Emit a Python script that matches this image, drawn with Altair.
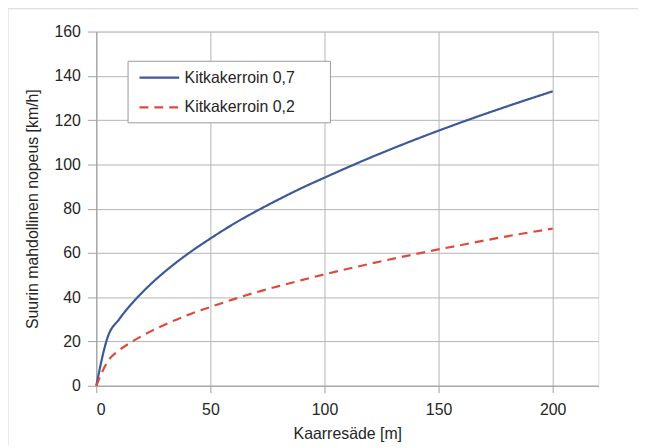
import altair as alt
import pandas as pd

radius = [0, 5, 10, 15, 20, 25, 30, 40, 50, 60, 70, 80, 90, 100, 120, 140, 160, 180, 200]
speed_07 = [0, 22, 30, 36.5, 42, 47, 51.5, 59.5, 66.5, 73, 78.8, 84.2, 89.3, 94, 103, 111.3, 119, 126.2, 133]
speed_02 = [0, 11, 16, 19.5, 22.5, 25.2, 27.6, 31.9, 35.6, 39, 42.2, 45, 47.7, 50.3, 55.1, 59.5, 63.6, 67.5, 71]
series = ["Kitkakerroin 0,7", "Kitkakerroin 0,2"]
x_ticks = [0, 50, 100, 150, 200]
y_ticks = [0, 20, 40, 60, 80, 100, 120, 140, 160]

rows = []
for name, vals in zip(series, [speed_07, speed_02]):
    for r, v in zip(radius, vals):
        rows.append({"r": r, "v": v, "s": name})
df = pd.DataFrame(rows)

FONT = "Liberation Sans"
TXT = "#262626"
GRID = "#b4b4b4"
W, H = 506, 357

axis_common = dict(
    grid=True, gridColor=GRID, gridWidth=1, domainColor="#a0a0a0", tickColor="#a0a0a0",
    labelFont=FONT, titleFont=FONT, labelFontSize=16, titleFontSize=16,
    labelColor=TXT, titleColor=TXT, titleFontWeight="normal",
)

legend_common = dict(
    title=None, orient="none", legendX=42, legendY=25,
    symbolType="stroke", symbolSize=1600, symbolStrokeWidth=2.2, rowPadding=-10,
    padding=0, labelFontSize=16,
    labelFont=FONT, labelColor=TXT, labelOffset=4, labelLimit=300,
)

lines = alt.Chart(df).mark_line(strokeWidth=2.2, interpolate="monotone").encode(
    x=alt.X("r:Q", scale=alt.Scale(domain=[0, 220], nice=False),
            axis=alt.Axis(values=x_ticks, title="Kaarresäde [m]",
                          tickSize=7, labelPadding=9, titlePadding=8, **axis_common)),
    y=alt.Y("v:Q", scale=alt.Scale(domain=[0, 160], nice=False),
            axis=alt.Axis(values=y_ticks, title="Suurin mahdollinen nopeus [km/h]",
                          tickSize=9, labelPadding=7, titlePadding=14, **axis_common)),
    color=alt.Color("s:N", scale=alt.Scale(domain=series, range=["#3d5a98", "#dc4b3c"]),
                    legend=alt.Legend(**legend_common)),
    strokeDash=alt.StrokeDash("s:N", scale=alt.Scale(domain=series, range=[[1, 0], [9, 6]]),
                              legend=alt.Legend(**legend_common)),
)

one = pd.DataFrame({"a": [0]})

frame = alt.Chart(one).mark_rect(
    fill=None, stroke="#d4d4d4", strokeWidth=1
).encode(
    x=alt.value(-89), x2=alt.value(W + 42), y=alt.value(-23), y2=alt.value(H + 90)
)

legend_box = alt.Chart(one).mark_rect(
    fill="white", stroke="#9a9a9a", strokeWidth=1
).encode(
    x=alt.value(32), x2=alt.value(236), y=alt.value(30), y2=alt.value(92)
)

chart = alt.layer(frame, legend_box, lines).properties(
    width=W, height=H,
    padding={"left": 89, "top": 22, "right": 40, "bottom": 58},
    autosize=alt.AutoSizeParams(type="none"),
).configure_view(
    stroke="#a0a0a0", strokeWidth=1
).configure(background="white")

chart.save("out.html", embed_options={"renderer": "svg", "actions": False})
